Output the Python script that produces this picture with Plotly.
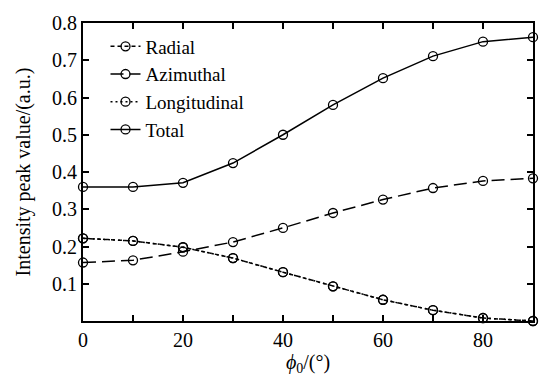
import plotly.graph_objects as go

phi0 = [0, 10, 20, 30, 40, 50, 60, 70, 80, 90]
radial = [0.222, 0.215, 0.198, 0.169, 0.131, 0.093, 0.057, 0.029, 0.008, 0.0]
azimuthal = [0.157, 0.163, 0.186, 0.212, 0.250, 0.290, 0.326, 0.357, 0.376, 0.383]
longitudinal = [0.222, 0.215, 0.198, 0.169, 0.131, 0.093, 0.057, 0.029, 0.008, 0.0]
total = [0.360, 0.360, 0.371, 0.424, 0.500, 0.580, 0.652, 0.711, 0.750, 0.762]

series = [
    ("Radial", radial, "4px,3px"),
    ("Azimuthal", azimuthal, "13px,6px"),
    ("Longitudinal", longitudinal, "2px,3px"),
    ("Total", total, "solid"),
]

FONT = "Liberation Serif"
fig = go.Figure()
for name, vals, dash in series:
    fig.add_trace(go.Scatter(
        x=phi0, y=vals, name=name, mode="lines+markers",
        line=dict(color="black", width=1.5, dash=dash),
        marker=dict(symbol="circle-open", size=9, color="black", line=dict(width=1.3)),
        cliponaxis=False,
    ))

axis_common = dict(
    showline=True, linecolor="black", linewidth=2, mirror="ticks",
    ticks="inside", ticklen=6, tickwidth=1.5, tickcolor="black",
    showgrid=False, zeroline=False,
    tickfont=dict(family=FONT, size=20, color="black"),
)
fig.update_xaxes(
    range=[0, 90], tickvals=[0, 20, 40, 60, 80],
    minor=dict(tickvals=[10, 30, 50, 70], ticks="inside", ticklen=6, tickwidth=1.5, tickcolor="black"),
    title=dict(text="<i>ϕ</i><sub>0</sub>/(°)", font=dict(family=FONT, size=20, color="black"), standoff=4),
    **axis_common,
)
fig.update_yaxes(
    range=[0, 0.8], tickvals=[0.1, 0.2, 0.3, 0.4, 0.5, 0.6, 0.7, 0.8],
    ticktext=["0.1", "0.2", "0.3", "0.4", "0.5", "0.6", "0.7", "0.8"],
    title=dict(text="Intensity peak value/(a.u.)", font=dict(family=FONT, size=20, color="black"), standoff=16),
    **axis_common,
)
fig.update_layout(
    width=554, height=381,
    margin=dict(l=83, r=21, t=15, b=56),
    paper_bgcolor="white", plot_bgcolor="white",
    font=dict(family=FONT, size=20, color="black"),
    legend=dict(x=0.05, y=0.985, xanchor="left", yanchor="top",
                bgcolor="rgba(0,0,0,0)", font=dict(family=FONT, size=19, color="black"),
                tracegroupgap=0, itemwidth=30),
    showlegend=True,
)
fig.write_html("out.html")
